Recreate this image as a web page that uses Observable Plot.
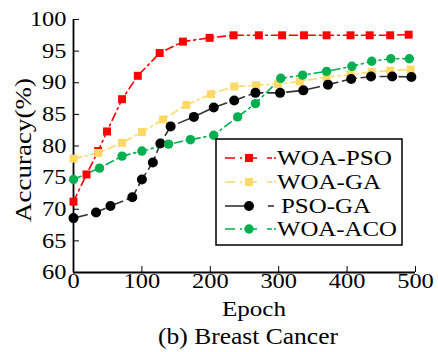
<!DOCTYPE html>
<html>
<head>
<meta charset="utf-8">
<script src="https://cdn.jsdelivr.net/npm/d3@7"></script>
<script src="https://cdn.jsdelivr.net/npm/@observablehq/plot@0.6"></script>
<style>
  html, body { margin: 0; padding: 0; background: #fff; }
  #chart { position: relative; width: 438px; height: 352px; }
  svg { font-family: "Liberation Serif", "DejaVu Serif", serif; }
</style>
</head>
<body>
<div id="chart"></div>
<script>
// ---- data ----
const seriesNames = ["WOA-PSO", "WOA-GA", "PSO-GA", "WOA-ACO"];

const woaPsoEpoch = [0, 19, 36, 49, 71, 94, 126, 160, 199, 234, 271, 305, 337, 370, 405, 433, 463, 490];
const woaPsoAcc   = [71.2, 75.5, 79.2, 82.3, 87.4, 91.1, 94.7, 96.5, 97.1, 97.5, 97.5, 97.5, 97.5, 97.5, 97.5, 97.5, 97.5, 97.6];

const woaGaEpoch = [0, 36, 71, 100, 131, 165, 201, 235, 267, 299, 331, 370, 405, 436, 463, 493];
const woaGaAcc   = [78.0, 78.9, 80.5, 82.2, 84.2, 86.5, 88.2, 89.4, 89.6, 89.8, 90.2, 90.9, 91.3, 91.7, 91.9, 92.1];

const psoGaEpoch = [0, 33, 54, 86, 100, 116, 127, 142, 176, 205, 235, 266, 302, 336, 372, 406, 435, 466, 494];
const psoGaAcc   = [68.6, 69.5, 70.5, 71.9, 74.7, 77.4, 80.4, 83.1, 84.6, 86.1, 87.2, 88.4, 88.4, 88.8, 89.7, 90.6, 91.0, 91.0, 90.9];

const woaAcoEpoch = [0, 38, 71, 100, 139, 171, 205, 240, 266, 303, 335, 370, 407, 436, 464, 491];
const woaAcoAcc   = [74.7, 76.5, 78.4, 79.2, 80.3, 81.0, 81.7, 84.6, 86.7, 90.7, 91.2, 91.8, 92.6, 93.4, 93.8, 93.8];

const xTicks = [0, 100, 200, 300, 400, 500];
const yTicks = [60, 65, 70, 75, 80, 85, 90, 95, 100];

const xLabel = "Epoch";
const yLabel = "Accuracy(%)";
const caption = "(b) Breast Cancer";

// ---- styles ----
const styles = {
  "WOA-PSO": {color: "#ff0000", lineColor: "#ff0000", symbol: "square", r: 4.5, dash: "8,4,2,4", legendW: 115},
  "WOA-GA":  {color: "#ffd966", lineColor: "#ffd966", symbol: "square", r: 4.5, dash: "8,4,2,4", legendW: 104},
  "PSO-GA":  {color: "#000000", lineColor: "#333333", symbol: "circle", r: 5.0, dash: "14,5", legendW: 90},
  "WOA-ACO": {color: "#00b050", lineColor: "#00b050", symbol: "circle", r: 4.7, dash: "8,4,2,4", legendW: 120}
};

function rows(name, ep, acc) { return ep.map((e, i) => ({series: name, epoch: e, acc: acc[i]})); }
const allSeries = [
  rows("WOA-PSO", woaPsoEpoch, woaPsoAcc),
  rows("WOA-GA", woaGaEpoch, woaGaAcc),
  rows("PSO-GA", psoGaEpoch, psoGaAcc),
  rows("WOA-ACO", woaAcoEpoch, woaAcoAcc)
];

const seriesMarks = [];
for (const data of allSeries) {
  const s = styles[data[0].series];
  seriesMarks.push(Plot.line(data, {x: "epoch", y: "acc", stroke: s.lineColor, strokeWidth: 1.6, strokeDasharray: s.dash}));
}
for (const data of allSeries) {
  const s = styles[data[0].series];
  seriesMarks.push(Plot.dot(data, {x: "epoch", y: "acc", symbol: s.symbol, r: s.r, fill: s.color, stroke: "none"}));
}

const plot = Plot.plot({
  width: 438,
  height: 352,
  marginLeft: 73,
  marginRight: 23,
  marginTop: 19,
  marginBottom: 80,
  style: {fontFamily: "Liberation Serif", fontSize: "21px", color: "#000", background: "#fff"},
  x: {domain: [0, 500]},
  y: {domain: [60, 100]},
  marks: [
    Plot.axisX({ticks: xTicks, tickSize: -6, tickPadding: 7, label: null, tickFormat: d => String(d), fontSize: 21}),
    Plot.axisY({ticks: yTicks, tickSize: -6, tickPadding: 13, label: null, tickFormat: d => String(d), fontSize: 21}),
    Plot.ruleX([0], {strokeWidth: 1.8}),
    Plot.ruleY([60], {strokeWidth: 1.8}),
    ...seriesMarks
  ]
});
document.getElementById("chart").appendChild(plot);

// ---- widen tick labels (reference uses a wide serif face) ----
const svg = d3.select(plot);
svg.selectAll('g[aria-label$="tick label"] text')
  .attr("textLength", function() { return this.textContent.length * 12.2; })
  .attr("lengthAdjust", "spacingAndGlyphs");

// ---- labels & legend ----
function label(x, y, txt, size, len, rotate) {
  const t = svg.append("text")
    .attr("transform", `translate(${x},${y})` + (rotate ? ` rotate(${rotate})` : ""))
    .attr("text-anchor", "middle").attr("dominant-baseline", "central")
    .attr("font-size", size).text(txt);
  if (len) t.attr("textLength", len).attr("lengthAdjust", "spacingAndGlyphs");
  return t;
}
label(254, 308, xLabel, 22, 64);
label(248, 336, caption, 23, 180);
label(23, 150, yLabel, 23, 144, -90);

const lg = svg.append("g");
lg.append("rect").attr("x", 216).attr("y", 139).attr("width", 186).attr("height", 106)
  .attr("fill", "#fff").attr("stroke", "#000").attr("stroke-width", 1.5);
const rowY = [158, 182, 206, 229];
seriesNames.forEach((name, i) => {
  const s = styles[name];
  const y = rowY[i];
  const g = lg.append("g");
  if (name === "PSO-GA") {
    g.append("line").attr("x1", 225).attr("x2", 249).attr("y1", y).attr("y2", y).attr("stroke", s.lineColor).attr("stroke-width", 1.6);
    g.append("line").attr("x1", 268).attr("x2", 274).attr("y1", y).attr("y2", y).attr("stroke", s.lineColor).attr("stroke-width", 1.6);
  } else {
    g.append("line").attr("x1", 225).attr("x2", 276).attr("y1", y).attr("y2", y).attr("stroke", s.lineColor).attr("stroke-width", 1.6)
      .attr("stroke-dasharray", "10,5,2,5,10");
  }
  if (s.symbol === "square") {
    g.append("rect").attr("x", 249 - 4).attr("y", y - 4).attr("width", 8).attr("height", 8).attr("fill", s.color);
  } else {
    g.append("circle").attr("cx", 249).attr("cy", y).attr("r", s.r).attr("fill", s.color);
  }
  g.append("text").attr("x", name === "PSO-GA" ? 281 : 277).attr("y", y).attr("text-anchor", "start")
    .attr("dominant-baseline", "central").attr("font-size", 21)
    .attr("textLength", s.legendW).attr("lengthAdjust", "spacingAndGlyphs").text(name);
});
</script>
</body>
</html>
